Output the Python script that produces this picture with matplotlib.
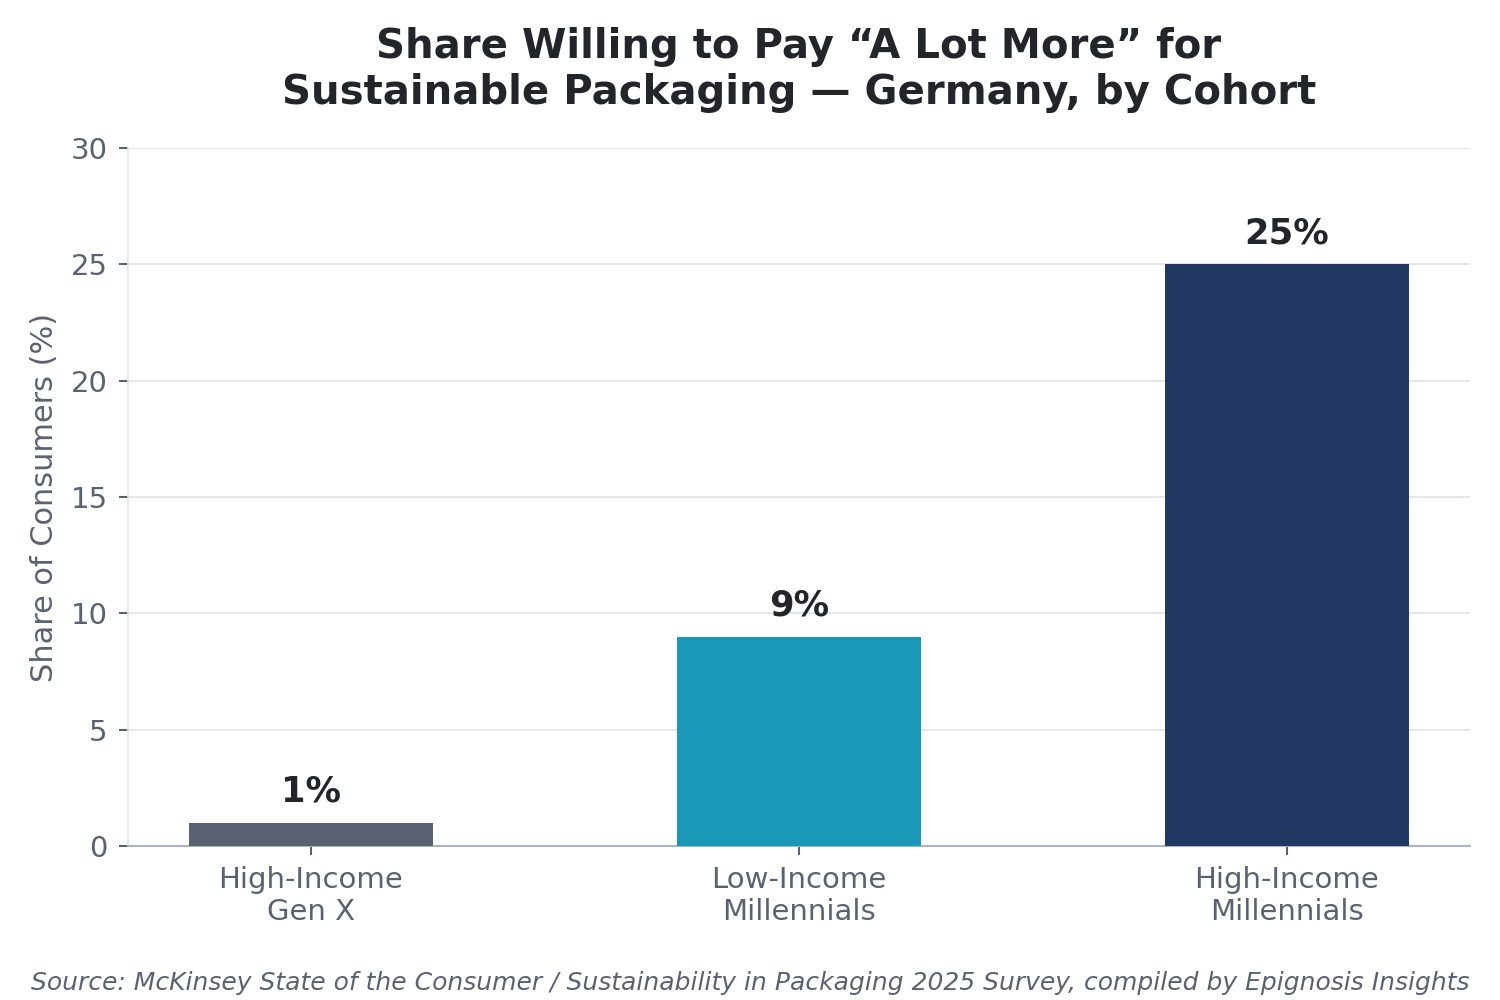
import numpy as np
import matplotlib.pyplot as plt

plt.rcParams["font.family"] = ["DejaVu Sans"]

cohorts = ["High-Income\nGen X", "Low-Income\nMillennials", "High-Income\nMillennials"]
shares = [1, 9, 25]
labels = ["1%", "9%", "25%"]
colors = ["#5a6272", "#1a98b8", "#213862"]

text_dark = "#22262b"
text_gray = "#5a6272"

fig = plt.figure(figsize=(10, 6.6667), dpi=150)
ax = fig.add_axes([0.085, 0.154, 0.895, 0.698])

x = np.arange(len(cohorts))
ax.bar(x, shares, width=0.5, color=colors, zorder=3)

for xi, v, lab in zip(x, shares, labels):
    ax.text(xi, v + 0.6, lab, ha="center", va="bottom", fontsize=17,
            fontweight="bold", color=text_dark)

ax.set_ylim(0, 30)
ax.set_yticks(range(0, 31, 5))
ax.set_xticks(x)
ax.set_xticklabels(cohorts)
ax.tick_params(axis="both", labelsize=14, colors=text_gray, length=4.5, width=1, pad=5)
ax.set_ylabel("Share of Consumers (%)", fontsize=14.6, color=text_gray, labelpad=5.5)

ax.grid(axis="y", color="#e2e5ea", linewidth=0.9, zorder=0)
ax.spines["top"].set_visible(False)
ax.spines["right"].set_visible(False)
ax.spines["left"].set_color("#e2e5ea")
ax.spines["bottom"].set_color("#aab4c6")
ax.spines["bottom"].set_linewidth(1.0)

ax.set_title("Share Willing to Pay \u201cA Lot More\u201d for\nSustainable Packaging \u2014 Germany, by Cohort",
             fontsize=19.3, fontweight="bold", color=text_dark, pad=21)

fig.text(0.5, 0.005, "Source: McKinsey State of the Consumer / Sustainability in Packaging 2025 Survey, compiled by Epignosis Insights",
         ha="center", va="bottom", fontsize=12, style="italic", color=text_gray)

fig.savefig("out.png", dpi=150)
